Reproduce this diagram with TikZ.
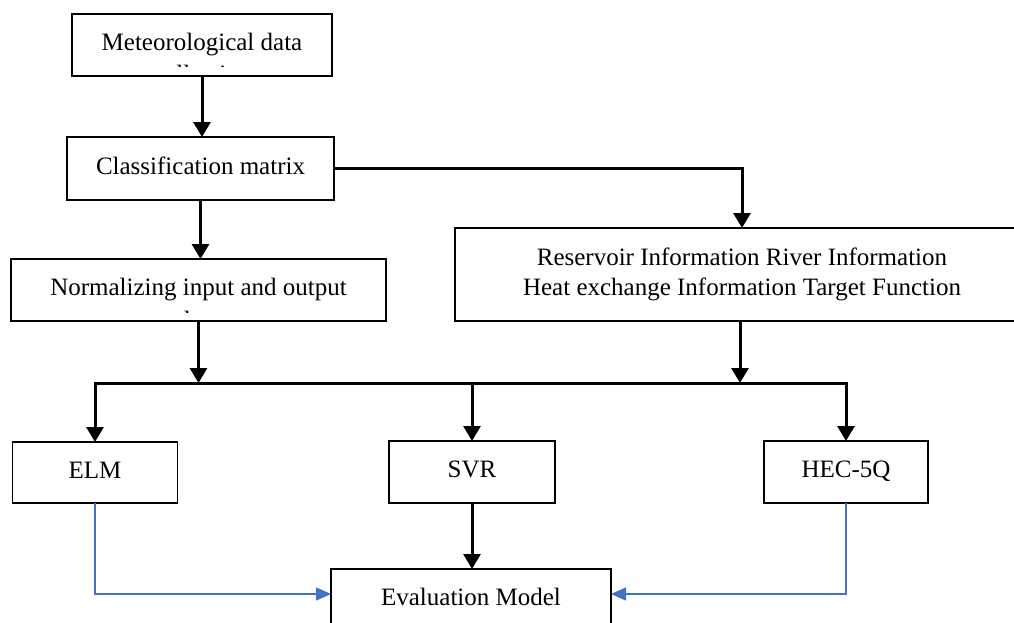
\documentclass[tikz,border=0pt]{standalone}
\usepackage{fontspec}
\setmainfont{Liberation Serif}
\usetikzlibrary{arrows.meta}
\definecolor{linkblue}{HTML}{4472C4}
\begin{document}
\begin{tikzpicture}[x=1pt,y=-1pt,
  box/.style={draw,line width=1.8pt,inner sep=0pt,outer sep=0pt,
    font=\fontsize{25}{30}\selectfont,text height=17pt,text depth=6pt},
  tallbox/.style={draw,line width=1.8pt,inner sep=0pt,outer sep=0pt,
    font=\fontsize{25}{30}\selectfont,align=center},
  txt/.style={inner sep=0pt,font=\fontsize{25}{30}\selectfont,anchor=base},
  flow/.style={line width=3pt,-{Triangle[length=15pt,width=17pt]}},
  side/.style={draw=linkblue,line width=1.2pt,
    -{Triangle[length=15pt,width=13pt,fill=linkblue]}}]

% page and visible area
\useasboundingbox (0,0) rectangle (1014,622);
\fill[white] (0,0) rectangle (1014,622);
\clip (0,0) rectangle (1014,622);

% boxes
\node[box,minimum width=260pt,minimum height=62pt] (met) at (202,45) {Meteorological data};
\node[box,minimum width=267pt,minimum height=63pt] (cls) at (200.5,168.5) {Classification matrix};
\node[box,minimum width=375pt,minimum height=62pt] (norm) at (198.5,290) {Normalizing input and output};
\node[tallbox,minimum width=574pt,minimum height=93pt] (res) at (742,274.5)
  {Reservoir Information River Information\\Heat exchange Information Target Function};
\node[box,minimum width=165pt,minimum height=61pt] (elm) at (95,472.5) {ELM};
\node[box,minimum width=166pt,minimum height=62pt] (svr) at (472,472) {SVR};
\node[box,minimum width=164pt,minimum height=62pt] (hec) at (846,472) {HEC-5Q};
\node[box,minimum width=280pt,minimum height=62pt] (eval) at (471,600) {Evaluation Model};

% second text lines cut off by their text frames
\begin{scope}
  \clip (72,55) rectangle (332,66);
  \node[txt] (metrest) at (202,82) {collection};
\end{scope}
\begin{scope}
  \clip (11,300) rectangle (386,312);
  \node[txt] (normrest) at (198.5,328) {data};
\end{scope}

% connectors
\coordinate (bus) at (0,383);
\draw[flow] (met.south) -- (met.south |- cls.north);
\draw[flow] (cls.south) -- (cls.south |- norm.north);
\draw[flow] (cls.east) -| (res.north);
\draw[flow] (norm.south) -- (norm.south |- bus);
\draw[flow] ([xshift=-2pt]res.south) -- ([xshift=-2pt]res.south |- bus);
\draw[flow] (svr.north |- bus) -| (elm.north);
\draw[flow] (svr.north |- bus) -| (hec.north);
\draw[flow] (svr.north |- bus) -- (svr.north);
\draw[flow] (svr.south) -- (svr.south |- eval.north);
\draw[side] (elm.south) |- ([yshift=6pt]eval.west);
\draw[side] (hec.south) |- ([yshift=6pt]eval.east);
\end{tikzpicture}
\end{document}
